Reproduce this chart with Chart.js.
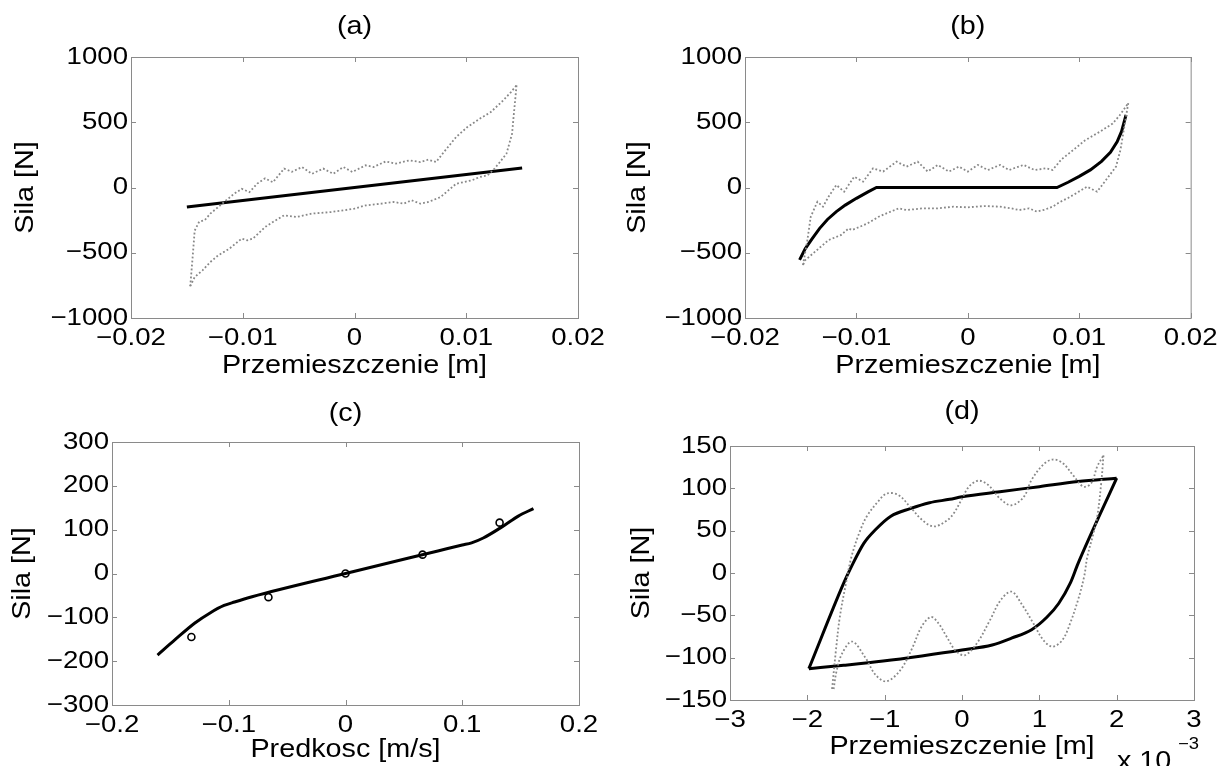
<!DOCTYPE html>
<html>
<head>
<meta charset="utf-8">
<script src="https://cdn.jsdelivr.net/npm/chart.js@4.4.0/dist/chart.umd.min.js"></script>
<style>
  body { margin: 0; background: #fff; width: 1220px; height: 766px; position: relative; overflow: hidden; }
  canvas { position: absolute; }
</style>
</head>
<body>
<canvas id="chartA" width="610" height="383" style="left:0;top:0"></canvas>
<canvas id="chartB" width="610" height="383" style="left:610px;top:0"></canvas>
<canvas id="chartC" width="610" height="383" style="left:0;top:383px"></canvas>
<canvas id="chartD" width="610" height="383" style="left:610px;top:383px"></canvas>
<script>
// ---- (a) model: straight line, measured loop (dotted)
const xLineA = [-0.015, 0.015]
const yLineA = [-150, 150]
const xUpA = [-0.0147,-0.0145,-0.0143,-0.0139,-0.0134,-0.0129,-0.0122,-0.0115,-0.0108,-0.0101,-0.0094,-0.0087,-0.0080,-0.0073,-0.0063,-0.0056,-0.0047,-0.0038,-0.0028,-0.0019,-0.0010,-0.0002,0.0010,0.0017,0.0028,0.0037,0.0049,0.0059,0.0066,0.0073,0.0080,0.0091,0.0101,0.0112,0.0122,0.0133,0.0140,0.0145]
const yUpA = [-757,-550,-330,-262,-250,-200,-150,-100,-50,-10,-35,30,70,40,145,120,157,105,145,105,157,119,170,157,200,183,208,195,213,195,272,387,463,527,578,667,731,783]
const xDownA = [0.0145,0.0143,0.0141,0.0136,0.0129,0.0124,0.0119,0.0112,0.0105,0.0098,0.0091,0.0084,0.0077,0.0066,0.0059,0.0051,0.0044,0.0035,0.0024,0.0010,0,-0.0010,-0.0021,-0.0038,-0.0052,-0.0063,-0.0073,-0.0080,-0.0091,-0.0096,-0.0101,-0.0112,-0.0122,-0.0129,-0.0136,-0.0143,-0.0147]
const yDownA = [783,600,412,259,183,132,93,80,55,42,29,-22,-73,-111,-124,-98,-124,-111,-124,-137,-162,-175,-188,-200,-226,-213,-264,-303,-392,-405,-392,-469,-520,-571,-635,-686,-757]

// ---- (b) model with dead zone
const xLineB = [-0.0151,-0.0146,-0.0140,-0.0133,-0.0126,-0.0118,-0.0110,-0.0100,-0.0090,-0.0082,0.0080,0.0090,0.0100,0.0110,0.0120,0.0128,0.0134,0.0138,0.0142]
const yLineB = [-555,-470,-395,-313,-245,-185,-135,-83,-35,0,0,40,85,135,200,270,350,430,556]
const xUpB = [-0.0148,-0.0144,-0.0141,-0.0135,-0.0130,-0.0125,-0.0118,-0.0111,-0.0102,-0.0094,-0.0085,-0.0076,-0.0064,-0.0055,-0.0045,-0.0036,-0.0027,-0.0017,-0.0008,0,0.0009,0.0018,0.0029,0.0037,0.0050,0.0060,0.0070,0.0076,0.0084,0.0095,0.0105,0.0119,0.0130,0.0137,0.0144]
const yUpB = [-595,-403,-224,-109,-147,-70,19,-32,83,45,147,122,198,160,198,122,173,122,160,122,173,134,173,134,173,134,147,134,215,290,360,430,490,560,647]
const xDownB = [0.0144,0.0141,0.0137,0.0133,0.0124,0.0116,0.0107,0.0098,0.0090,0.0083,0.0076,0.0069,0.0062,0.0055,0.0046,0.0039,0.0029,0.0015,0,-0.0013,-0.0027,-0.0041,-0.0055,-0.0062,-0.0073,-0.0080,-0.0090,-0.0097,-0.0104,-0.0107,-0.0114,-0.0125,-0.0132,-0.0139,-0.0146,-0.0148]
const yDownB = [647,493,288,160,57,-32,6,-40,-80,-110,-147,-170,-185,-160,-173,-160,-147,-142,-152,-147,-160,-160,-173,-160,-198,-224,-275,-301,-326,-314,-365,-403,-454,-506,-557,-595]

// ---- (c) force vs velocity
const xLineC = [-0.161,-0.146,-0.129,-0.116,-0.104,-0.095,-0.080,0,0.080,0.100,0.108,0.118,0.135,0.148,0.161]
const yLineC = [-186,-151,-113,-90,-73,-65,-53,0,52,65,70,81,108,131,148]
const xPtsC = [-0.132, -0.066, 0, 0.066, 0.132]
const yPtsC = [-145, -54, 0, 43, 116]

// ---- (d) hysteresis loop (x in 1e-3 m)
const xUpD = [-1.98,-1.53,-1.43,-1.27,-1.12,-0.92,-0.67,-0.42,-0.16,0,0.49,1.0,1.5,2.0]
const yUpD = [-113,-12,7.5,35,51,67,76,83,87,90,96,102,108,112]
const xLowD = [-1.98,-1.53,-1.02,-0.52,0,0.39,0.64,0.9,1.1,1.25,1.4,1.5,2.0]
const yLowD = [-113,-109,-104,-98,-91,-85,-77,-67,-52,-36,-12,11,112]
const xDotUpD = [-1.68,-1.63,-1.58,-1.5,-1.43,-1.33,-1.23,-1.07,-0.97,-0.82,-0.67,-0.52,-0.37,-0.21,-0.11,-0.01,0.09,0.21,0.34,0.49,0.64,0.8,0.9,1.05,1.17,1.3,1.45,1.57,1.67,1.75,1.83]
const yDotUpD = [-137,-91,-52,-12,19,47,67,86,94,92,78,63,55,61,70,86,102,109,104,88,80,90,110,128,134,130,114,102,106,126,139]
const xDotLowD = [1.83,1.8,1.75,1.7,1.62,1.58,1.5,1.4,1.3,1.17,1.05,0.92,0.78,0.64,0.5,0.36,0.2,0.04,-0.08,-0.2,-0.3,-0.4,-0.52,-0.65,-0.8,-0.98,-1.12,-1.25,-1.42,-1.55,-1.62,-1.66]
const yDotLowD = [139,106,67,47,19,-4,-32,-59,-79,-87,-79,-59,-38,-22,-32,-56,-82,-97,-92,-75,-60,-52,-63,-90,-115,-128,-120,-100,-81,-95,-115,-137]

// ---- ticks
const xTicksAB = [-0.02, -0.01, 0, 0.01, 0.02]
const yTicksAB = [-1000, -500, 0, 500, 1000]
const xTicksC = [-0.2, -0.1, 0, 0.1, 0.2]
const yTicksC = [-300, -200, -100, 0, 100, 200, 300]
const xTicksD = [-3, -2, -1, 0, 1, 2, 3]
const yTicksD = [-150, -100, -50, 0, 50, 100, 150]

const FONT = '"Liberation Sans", Arial, Helvetica, sans-serif'
const TEXT_WIDEN = 1.15   // the original lettering is a bit wider than Arial
Chart.defaults.font.family = FONT
Chart.defaults.font.size = 24
Chart.defaults.color = '#000'

const pts = (xs, ys) => xs.map((x, i) => ({ x: x, y: ys[i] }))
const fmt = v => String(v).replace('-', '\u2212')

// stretch every text draw horizontally around its anchor
function widenText(canvas, k) {
  const ctx = canvas.getContext('2d')
  const fill = ctx.fillText
  ctx.fillText = function (text, x, y, maxWidth) {
    this.save()
    this.translate(x, y)
    this.scale(k, 1)
    if (maxWidth === undefined) fill.call(this, text, 0, 0)
    else fill.call(this, text, 0, 0, maxWidth / k)
    this.restore()
  }
}

function solid(xs, ys, smooth) {
  return {
    data: pts(xs, ys), showLine: true, pointRadius: 0,
    borderColor: '#000', borderWidth: 3,
    cubicInterpolationMode: smooth ? 'monotone' : 'default'
  }
}
function dotted(xs, ys, tension) {
  return {
    data: pts(xs, ys), showLine: true, pointRadius: 0,
    borderColor: '#888', borderWidth: 1.8, borderDash: [1.8, 2.2],
    tension: tension || 0
  }
}

// MATLAB-like box with inward ticks, panel title, exponent note
const matlabBox = {
  id: 'matlabBox',
  beforeDatasetsDraw(chart) {
    const { ctx, chartArea: a, scales } = chart
    const tl = 5
    ctx.save()
    ctx.strokeStyle = '#8a8a8a'
    ctx.lineWidth = 1
    ctx.strokeRect(a.left + 0.5, a.top + 0.5, a.right - a.left, a.bottom - a.top)
    ctx.beginPath()
    scales.x.ticks.forEach(t => {
      const px = Math.round(scales.x.getPixelForValue(t.value)) + 0.5
      ctx.moveTo(px, a.bottom); ctx.lineTo(px, a.bottom - tl)
      ctx.moveTo(px, a.top); ctx.lineTo(px, a.top + tl)
    })
    scales.y.ticks.forEach(t => {
      const py = Math.round(scales.y.getPixelForValue(t.value)) + 0.5
      ctx.moveTo(a.left, py); ctx.lineTo(a.left + tl, py)
      ctx.moveTo(a.right, py); ctx.lineTo(a.right - tl, py)
    })
    ctx.stroke()
    ctx.restore()
  },
  afterDraw(chart, args, opts) {
    const { ctx, chartArea: a } = chart
    ctx.save()
    ctx.fillStyle = '#000'
    ctx.font = '25px ' + FONT
    ctx.textAlign = 'center'
    ctx.textBaseline = 'middle'
    ctx.fillText(opts.title, (a.left + a.right) / 2, opts.titleY)
    if (opts.note) {
      ctx.textAlign = 'left'
      ctx.textBaseline = 'alphabetic'
      ctx.fillText('x 10', opts.note.x, opts.note.y)
      ctx.font = '16px ' + FONT
      ctx.fillText('\u22123', opts.note.x + 61, opts.note.y - 20)
    }
    ctx.restore()
  }
}

function makePanel(id, p) {
  const canvas = document.getElementById(id)
  widenText(canvas, TEXT_WIDEN)
  return new Chart(canvas, {
    type: 'scatter',
    data: { datasets: p.datasets },
    options: {
      responsive: false,
      animation: false,
      devicePixelRatio: 1,
      layout: { padding: { left: 0, right: p.padRight, top: p.padTop, bottom: 0 } },
      plugins: {
        legend: { display: false },
        tooltip: { enabled: false },
        matlabBox: { title: p.title, titleY: p.titleY, note: p.note }
      },
      scales: {
        x: {
          type: 'linear', min: p.xTicks[0], max: p.xTicks[p.xTicks.length - 1],
          afterBuildTicks: s => { s.ticks = p.xTicks.map(v => ({ value: v })) },
          afterFit: s => { s.height = p.xAxisH },
          grid: { display: false, drawTicks: false },
          border: { display: false },
          ticks: { padding: 6, autoSkip: false, maxRotation: 0, callback: v => fmt(v) },
          title: { display: true, text: p.xTitle, font: { size: 25 }, padding: { top: 0, bottom: p.xTitlePad } }
        },
        y: {
          type: 'linear', min: p.yTicks[0], max: p.yTicks[p.yTicks.length - 1],
          afterBuildTicks: s => { s.ticks = p.yTicks.map(v => ({ value: v })) },
          afterFit: s => { s.width = p.yAxisW },
          grid: { display: false, drawTicks: false },
          border: { display: false },
          ticks: { padding: 3, autoSkip: false, callback: v => fmt(v) },
          title: { display: true, text: 'Sila [N]', font: { size: 25 }, padding: { top: p.yTitlePad, bottom: 0 } }
        }
      }
    },
    plugins: [matlabBox]
  })
}

makePanel('chartA', {
  title: '(a)', titleY: 27.5, padTop: 57, padRight: 32, yAxisW: 131, xAxisH: 65,
  xTitle: 'Przemieszczenie [m]', xTitlePad: 2, yTitlePad: 11.5,
  xTicks: xTicksAB, yTicks: yTicksAB,
  datasets: [dotted(xUpA, yUpA), dotted(xDownA, yDownA), solid(xLineA, yLineA)]
})

makePanel('chartB', {
  title: '(b)', titleY: 27.5, padTop: 57, padRight: 29, yAxisW: 135, xAxisH: 65,
  xTitle: 'Przemieszczenie [m]', xTitlePad: 2, yTitlePad: 13,
  xTicks: xTicksAB, yTicks: yTicksAB,
  datasets: [dotted(xUpB, yUpB), dotted(xDownB, yDownB), solid(xLineB, yLineB)]
})

makePanel('chartC', {
  title: '(c)', titleY: 31, padTop: 59, padRight: 31, yAxisW: 112, xAxisH: 61,
  xTitle: 'Predkosc [m/s]', xTitlePad: 1, yTitlePad: 8.4,
  xTicks: xTicksC, yTicks: yTicksC,
  datasets: [
    solid(xLineC, yLineC, true),
    { data: pts(xPtsC, yPtsC), pointRadius: 3.5, pointBorderWidth: 1.6,
      pointBorderColor: '#000', pointBackgroundColor: 'rgba(255,255,255,0)', showLine: false }
  ]
})

makePanel('chartD', {
  title: '(d)', titleY: 29, padTop: 63, padRight: 26, yAxisW: 120, xAxisH: 66,
  xTitle: 'Przemieszczenie [m]', xTitlePad: 4, yTitlePad: 17,
  xTicks: xTicksD, yTicks: yTicksD,
  note: { x: 507, y: 386 },
  datasets: [dotted(xDotUpD, yDotUpD, 0.35), dotted(xDotLowD, yDotLowD, 0.35),
    solid(xUpD, yUpD, true), solid(xLowD, yLowD, true)]
})
</script>
</body>
</html>
